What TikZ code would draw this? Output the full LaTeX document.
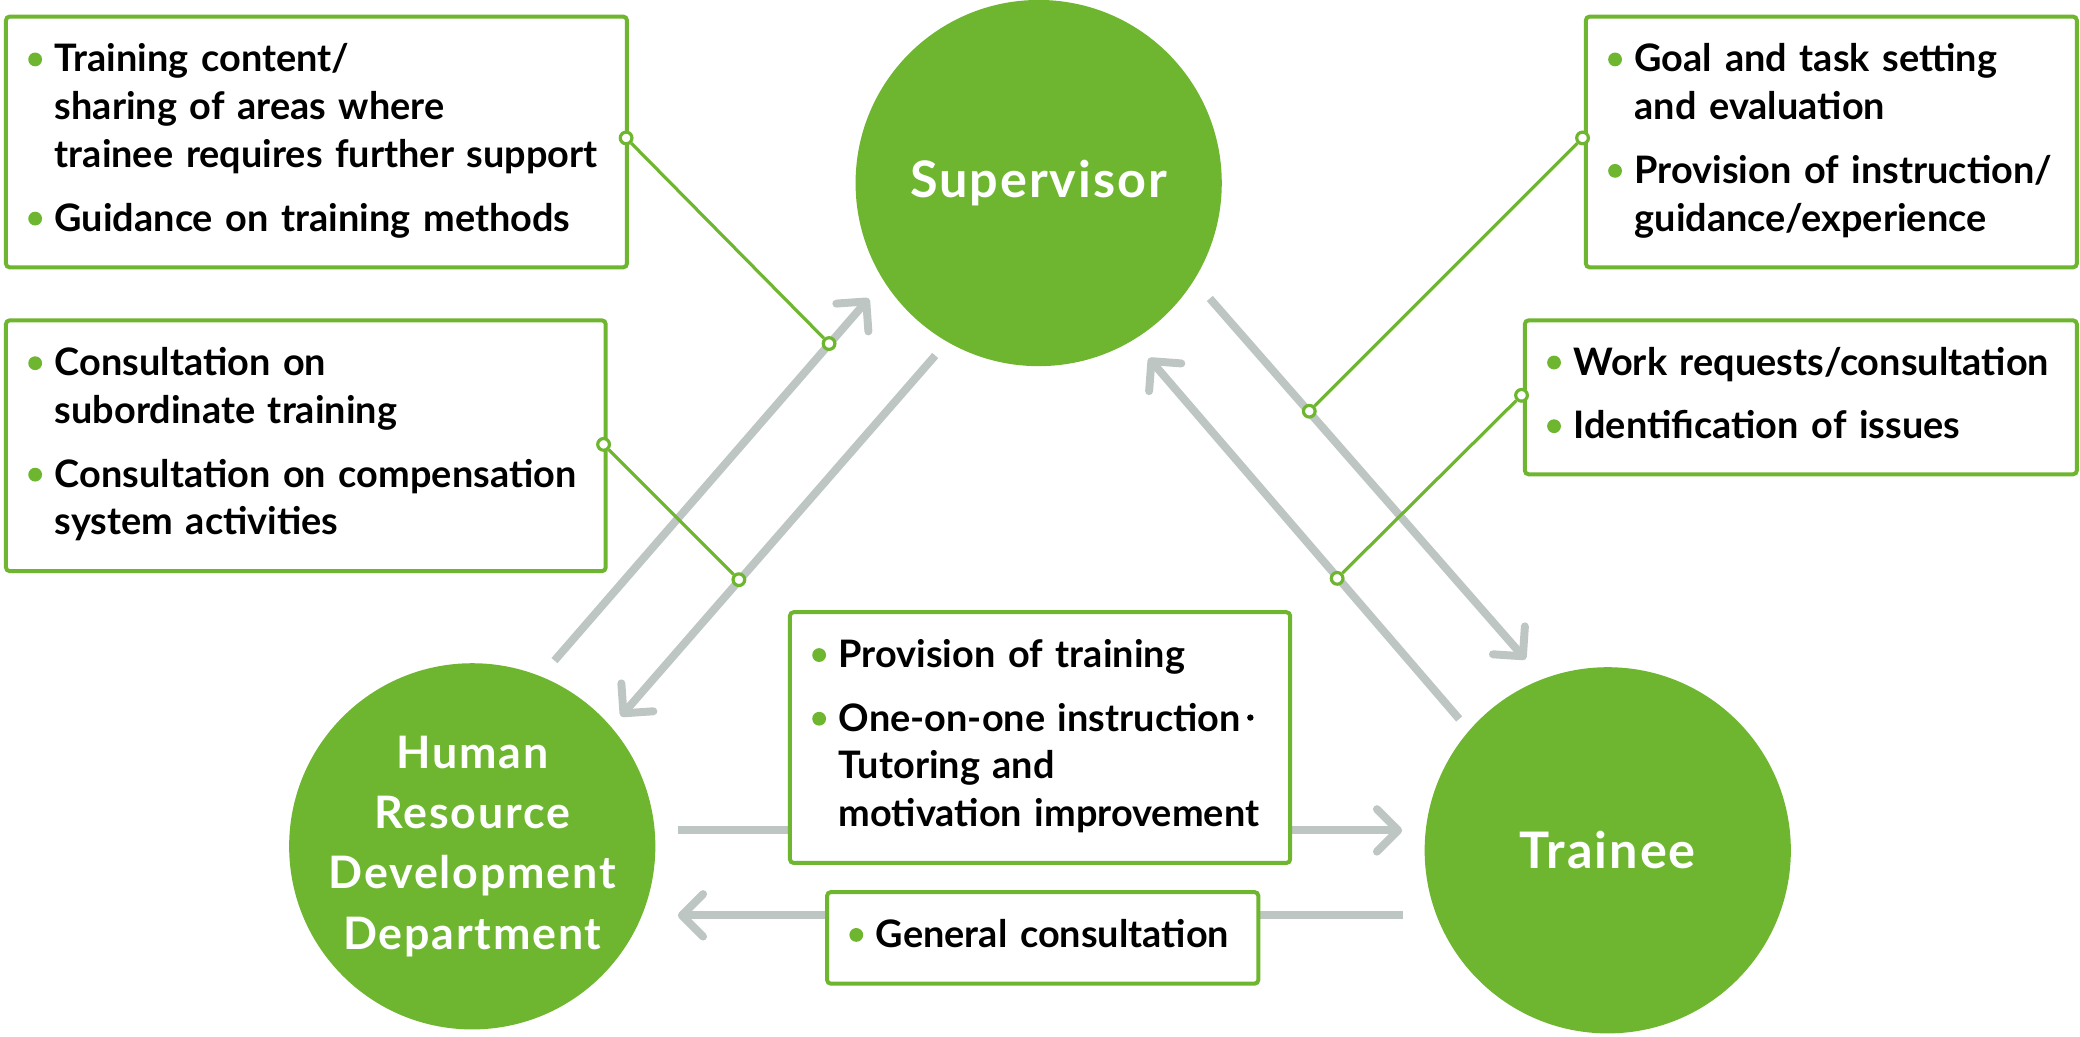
\documentclass[tikz,border=0pt]{standalone}
\usepackage{fontspec}
\setmainfont{Lato}
\newfontfamily\hubfont{Lato}[LetterSpace=4]
\usetikzlibrary{arrows.meta}

\definecolor{hrgreen}{HTML}{6FB630}
\definecolor{hrgray}{HTML}{BEC6C4}

\newcommand{\bul}{\tikz[baseline=-0.33em]\fill[hrgreen] (0,0) circle (0.13cm);}
\newcommand{\mdot}{\,\tikz[baseline=-0.36em]\fill (0,0) circle (0.06cm);}

\tikzset{
  hub/.style={circle, fill=hrgreen, minimum size=6.9cm, inner sep=0pt, text=white,
    align=center, font=\hubfont\bfseries\fontsize{24}{32.3}\selectfont},
  bighub/.style={hub, font=\hubfont\bfseries\fontsize{27}{32.3}\selectfont},
  box/.style={draw=hrgreen, line width=0.075cm, fill=white, rounded corners=2pt,
    anchor=north west, inner xsep=0.42cm, inner ysep=0pt, align=left,
    font=\bfseries\fontsize{20.3}{25.6}\selectfont},
  flow/.style={draw=hrgray, line width=0.15cm,
    -{Straight Barb[length=0.4cm,width=0.8cm,round]}},
  link/.style={draw=hrgreen, line width=0.06cm},
  knot/.style={circle, draw=hrgreen, fill=white, line width=0.06cm,
    minimum size=0.22cm, inner sep=0pt}
}

\begin{document}
\begin{tikzpicture}[x=0.025cm,y=-0.025cm]
        \useasboundingbox (0,0) rectangle (1568,781);

        % the three parties
        \node[bighub] (sup) at (783,138) {Supervisor};
        \node[hub] (hrd) at (356,638) {Human\\Resource\\Development\\Department};
        \node[bighub] (tra) at (1212,641) {Trainee};

        % ends of the gray arrows
        \coordinate (hs0) at (418,498);
        \coordinate (hs1) at (655,225);
        \coordinate (sh0) at (705,268);
        \coordinate (sh1) at (468,540);
        \coordinate (st0) at (912,225);
        \coordinate (st1) at (1150,497);
        \coordinate (ts0) at (1100,542);
        \coordinate (ts1) at (866,270);
        \coordinate (ht0) at (511,626);
        \coordinate (ht1) at (1057,626);
        \coordinate (th0) at (1058,690);
        \coordinate (th1) at (511,690);

        \draw[flow] (hs0) -- (hs1);
        \draw[flow] (sh0) -- (sh1);
        \draw[flow] (st0) -- (st1);
        \draw[flow] (ts0) -- (ts1);
        \draw[flow] (ht0) -- (ht1);
        \draw[flow] (th0) -- (th1);

        % boxes
        \node[box, text width=10.86cm, minimum height=4.725cm] (b1) at (3,11) {%
          \begin{tabular}{@{}l@{\hspace{0.24cm}}l@{}}
          \bul & Training content/\\
               & sharing of areas where\\
               & trainee requires further support\\[0.3cm]
          \bul & Guidance on training methods
          \end{tabular}};
        \node[box, text width=10.46cm, minimum height=4.725cm] (b2) at (3,240) {%
          \begin{tabular}{@{}l@{\hspace{0.24cm}}l@{}}
          \bul & Consultation on\\
               & subordinate training\\[0.3cm]
          \bul & Consultation on compensation\\
               & system activities
          \end{tabular}};
        \node[box, text width=8.41cm, minimum height=4.725cm] (b3) at (1194,11) {%
          \begin{tabular}{@{}l@{\hspace{0.24cm}}l@{}}
          \bul & Goal and task setting\\
               & and evaluation\\[0.3cm]
          \bul & Provision of instruction/\\
               & guidance/experience
          \end{tabular}};
        \node[box, text width=9.56cm, minimum height=2.9cm] (b4) at (1148,240) {%
          \begin{tabular}{@{}l@{\hspace{0.24cm}}l@{}}
          \bul & Work requests/consultation\\[0.3cm]
          \bul & Identification of issues
          \end{tabular}};
        \node[box, text width=8.585cm, minimum height=4.725cm] (b5) at (594,460) {%
          \begin{tabular}{@{}l@{\hspace{0.24cm}}l@{}}
          \bul & Provision of training\\[0.3cm]
          \bul & One-on-one instruction\mdot\\
               & Tutoring and\\
               & motivation improvement
          \end{tabular}};
        \node[box, text width=7.285cm, minimum height=1.725cm] (b6) at (622,671) {%
          \begin{tabular}{@{}l@{\hspace{0.24cm}}l@{}}
          \bul & General consultation
          \end{tabular}};

        % callout links
        \node[knot] (k1) at (472,104) {};
        \node[knot] (m1) at (625,259) {};
        \node[knot] (k2) at (455,335) {};
        \node[knot] (m2) at (557,437) {};
        \node[knot] (k3) at (1193,104) {};
        \node[knot] (m3) at (987,310) {};
        \node[knot] (k4) at (1147,298) {};
        \node[knot] (m4) at (1008,436) {};

        \draw[link] (k1) -- (m1);
        \draw[link] (k2) -- (m2);
        \draw[link] (k3) -- (m3);
        \draw[link] (k4) -- (m4);
\end{tikzpicture}
\end{document}
